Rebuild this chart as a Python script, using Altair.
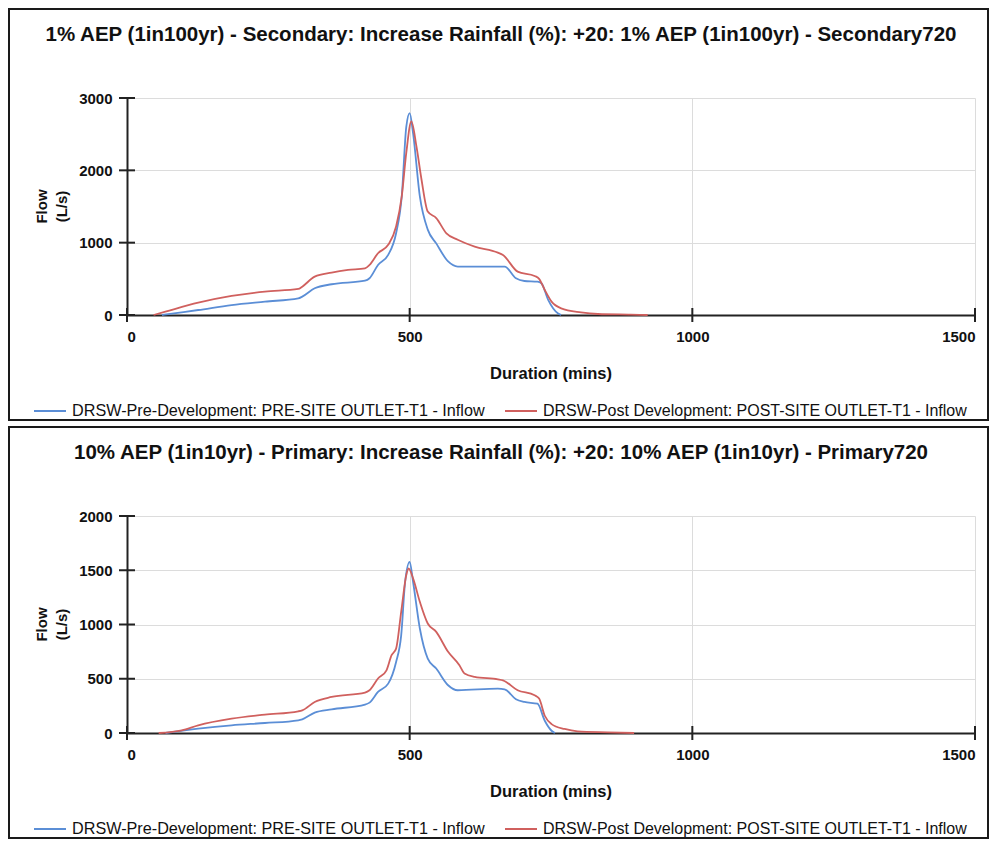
import altair as alt
import pandas as pd

# ---------------- data ----------------
PRE_NAME = "DRSW-Pre-Development: PRE-SITE OUTLET-T1 - Inflow"
POST_NAME = "DRSW-Post Development: POST-SITE OUTLET-T1 - Inflow"

titles = [
    "1% AEP (1in100yr) - Secondary: Increase Rainfall (%): +20: 1% AEP (1in100yr) - Secondary720",
    "10% AEP (1in10yr) - Primary: Increase Rainfall (%): +20: 10% AEP (1in10yr) - Primary720",
]

x_ticks = [0, 500, 1000, 1500]
y_ticks_top = [0, 1000, 2000, 3000]
y_ticks_bottom = [0, 500, 1000, 1500, 2000]

# Top panel (1% AEP)
top_pre_t = [62, 100, 126, 185, 244, 303, 310, 332, 362, 421, 429, 444, 462, 476, 486, 494, 500, 506,
             518, 532, 547, 568, 585, 656, 668, 688, 703, 726, 733, 745, 762, 768]
top_pre_q = [0, 40, 69, 138, 185, 230, 254, 369, 425, 475, 508, 692, 830, 1130, 1640, 2600, 2790, 2515,
             1640, 1180, 990, 740, 670, 670, 670, 508, 470, 460, 438, 208, 23, 0]
top_post_t = [47, 68, 126, 185, 244, 303, 310, 332, 362, 391, 421, 429, 444, 462, 476, 486, 494, 503,
              512, 521, 532, 547, 565, 585, 615, 656, 665, 691, 721, 729, 739, 751, 768, 803, 833, 891, 921]
top_post_q = [0, 46, 170, 263, 323, 360, 392, 530, 586, 623, 646, 692, 854, 970, 1223, 1640, 2240, 2676,
              2330, 1870, 1430, 1340, 1130, 1040, 946, 863, 830, 600, 540, 500, 346, 185, 92, 37, 14, 5, 0]

# Bottom panel (10% AEP)
bot_pre_t = [68, 126, 185, 244, 303, 310, 332, 362, 421, 429, 444, 462, 476, 485, 492, 500, 506, 518,
             532, 547, 568, 585, 656, 668, 688, 703, 726, 739, 751, 757]
bot_pre_q = [0, 40, 71, 92, 117, 126, 188, 218, 262, 280, 378, 455, 655, 900, 1394, 1578, 1394, 963,
             686, 594, 440, 394, 409, 403, 311, 286, 270, 113, 21, 0]
bot_post_t = [56, 97, 126, 185, 244, 303, 310, 332, 362, 421, 429, 444, 459, 468, 476, 485, 494, 498,
              506, 518, 532, 547, 568, 588, 597, 615, 656, 665, 691, 721, 729, 739, 751, 774, 797, 850, 897]
bot_post_q = [0, 25, 71, 132, 169, 200, 209, 286, 332, 372, 394, 502, 578, 717, 778, 1117, 1455, 1517,
              1425, 1209, 1009, 932, 748, 625, 548, 517, 495, 486, 394, 348, 317, 159, 82, 37, 15, 6, 0]

# ---------------- style ----------------
FONT = "Liberation Sans"
BLUE = "#5b8ed6"
RED = "#d0605e"
DARK = "#222222"
W, H = 848, 217


def panel(title, pre_t, pre_q, post_t, post_q, y_ticks):
    df = pd.DataFrame({
        "t": pre_t + post_t,
        "q": pre_q + post_q,
        "series": [PRE_NAME] * len(pre_t) + [POST_NAME] * len(post_t),
    })
    one = pd.DataFrame({"a": [0]})
    xsc = alt.Scale(domain=[0, 1500], nice=False)
    ysc = alt.Scale(domain=[0, y_ticks[-1]], nice=False)
    xaxis = alt.Axis(values=x_ticks, title=None, grid=True, ticks=False, tickSize=0,
                     labelPadding=14, format="d")
    yaxis = alt.Axis(values=y_ticks, title=None, grid=True, ticks=False, tickSize=0,
                     labelPadding=15, format="d")

    lines = alt.Chart(df).mark_line(interpolate="monotone", strokeWidth=1.8).encode(
        x=alt.X("t:Q", scale=xsc, axis=xaxis),
        y=alt.Y("q:Q", scale=ysc, axis=yaxis),
        color=alt.Color("series:N", scale=alt.Scale(domain=[PRE_NAME, POST_NAME], range=[BLUE, RED]),
                        legend=None),
    )

    xt = alt.Chart(pd.DataFrame({"v": x_ticks})).mark_rule(color=DARK, strokeWidth=2).encode(
        x=alt.X("v:Q", scale=xsc, axis=xaxis),
        y=alt.value(H - 7), y2=alt.value(H + 7),
    )
    yt = alt.Chart(pd.DataFrame({"v": y_ticks})).mark_rule(color=DARK, strokeWidth=2).encode(
        y=alt.Y("v:Q", scale=ysc, axis=yaxis),
        x=alt.value(-8), x2=alt.value(8),
    )

    border = alt.Chart(one).mark_rect(filled=False, stroke="#1a1a1a", strokeWidth=2).encode(
        x=alt.value(-118), x2=alt.value(861), y=alt.value(-89), y2=alt.value(H + 105),
    )
    ttl = alt.Chart(one).mark_text(font=FONT, fontSize=20.5, fontWeight="bold", color="#111111",
                                   align="center", baseline="middle").encode(
        x=alt.value(374), y=alt.value(-63), text=alt.value(title),
    )
    xtitle = alt.Chart(one).mark_text(font=FONT, fontSize=16.5, fontWeight="bold", color="#111111",
                                      align="center", baseline="middle").encode(
        x=alt.value(W / 2), y=alt.value(H + 59), text=alt.value("Duration (mins)"),
    )
    ytitle = alt.Chart(one).mark_text(font=FONT, fontSize=15, fontWeight="bold", color="#111111",
                                      align="center", baseline="middle", angle=270,
                                      lineHeight=20).encode(
        x=alt.value(-85), y=alt.value(H / 2), text=alt.value(["Flow", "(L/s)"]),
    )
    leg_y = H + 96
    leg_blue = alt.Chart(one).mark_rule(color=BLUE, strokeWidth=2).encode(
        x=alt.value(-93), x2=alt.value(-61), y=alt.value(leg_y))
    leg_red = alt.Chart(one).mark_rule(color=RED, strokeWidth=2).encode(
        x=alt.value(378), x2=alt.value(410), y=alt.value(leg_y))
    leg_t1 = alt.Chart(one).mark_text(font=FONT, fontSize=16.2, color="#111111", align="left",
                                      baseline="middle").encode(
        x=alt.value(-55), y=alt.value(leg_y), text=alt.value(PRE_NAME))
    leg_t2 = alt.Chart(one).mark_text(font=FONT, fontSize=16, color="#111111", align="left",
                                      baseline="middle").encode(
        x=alt.value(416), y=alt.value(leg_y), text=alt.value(POST_NAME))

    return alt.layer(border, lines, xt, yt, ttl, xtitle, ytitle,
                     leg_blue, leg_red, leg_t1, leg_t2).properties(width=W, height=H)


top = panel(titles[0], top_pre_t, top_pre_q, top_post_t, top_post_q, y_ticks_top)
bottom = panel(titles[1], bot_pre_t, bot_pre_q, bot_post_t, bot_post_q, y_ticks_bottom)

chart = alt.vconcat(top, bottom, spacing=5).properties(
    padding=0, background="white"
).configure_view(strokeWidth=0).configure_axis(
    labelFont=FONT, labelFontSize=15, labelFontWeight="bold", labelColor="#111111",
    domainColor=DARK, domainWidth=2, gridColor="#dcdcdc", gridWidth=1,
)

chart.save("out.html", embed_options={"renderer": "svg", "actions": False})
